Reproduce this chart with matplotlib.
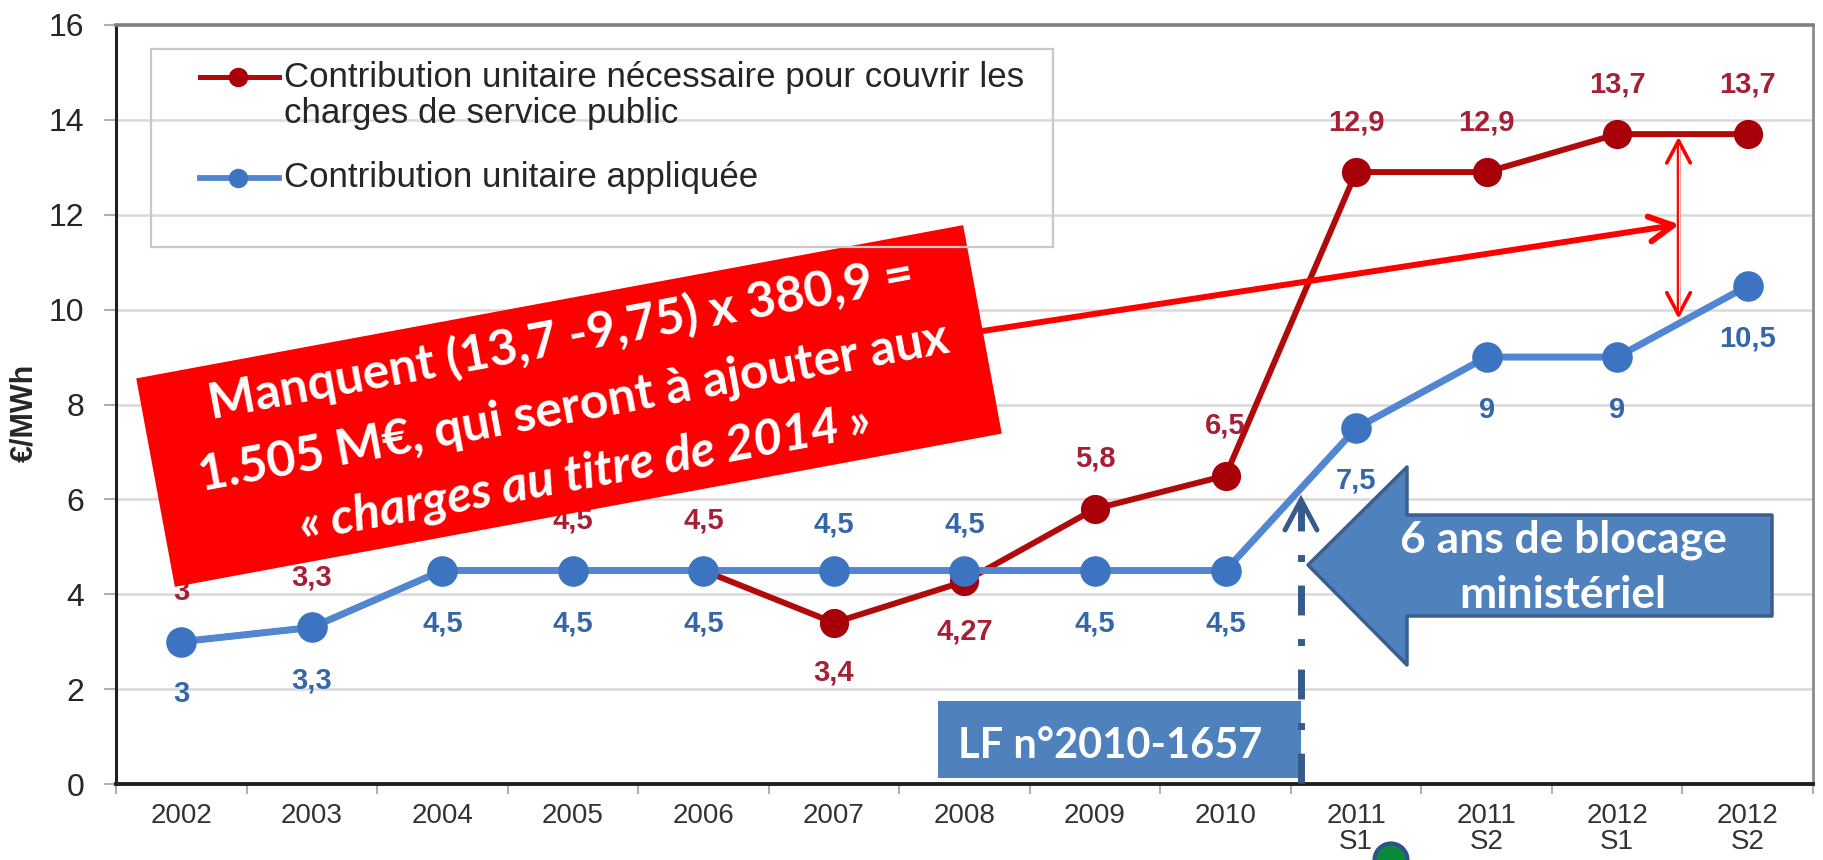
import numpy as np
import matplotlib
matplotlib.use("Agg")
import matplotlib.pyplot as plt
from matplotlib import font_manager
import matplotlib.transforms as mtransforms
from matplotlib.patches import Rectangle, Polygon, Circle, FancyArrowPatch, ArrowStyle
from matplotlib.lines import Line2D

# ---------------- data ----------------
categories = ["2002", "2003", "2004", "2005", "2006", "2007", "2008", "2009", "2010",
              "2011\nS1", "2011\nS2", "2012\nS1", "2012\nS2"]
necessary = [3, 3.3, 4.5, 4.5, 4.5, 3.4, 4.27, 5.8, 6.5, 12.9, 12.9, 13.7, 13.7]
applied = [3, 3.3, 4.5, 4.5, 4.5, 4.5, 4.5, 4.5, 4.5, 7.5, 9, 9, 10.5]
y_ticks = [0, 2, 4, 6, 8, 10, 12, 14, 16]
series_labels = ["Contribution unitaire nécessaire pour couvrir les",
                 "charges de service public",
                 "Contribution unitaire appliquée"]
y_label = "€/MWh"
gap_values = [13.7, 9.75]
box_lines = ["Manquent (13,7 -9,75) x 380,9 =",
             "1.505 M€, qui seront à ajouter aux",
             "« charges au titre de 2014 »"]
arrow_lines = ["6 ans de blocage", "ministériel"]
law_text = "LF n°2010-1657"

# ---------------- style ----------------
W, H, DPI = 1824, 860, 100
RED_LINE, RED_MK, RED_TXT = "#B00A0A", "#A80008", "#A52035"
BLUE_LINE, BLUE_MK, BLUE_TXT = "#5286D0", "#3C74C2", "#3566A8"
BOX_RED = "#FF0000"
ARROW_BLUE, ARROW_EDGE = "#4F81BD", "#3A5F8E"


def has_font(name):
    try:
        font_manager.findfont(font_manager.FontProperties(family=name),
                              fallback_to_default=False)
        return True
    except Exception:
        return False


SANS = "Liberation Sans" if has_font("Liberation Sans") else "DejaVu Sans"
CAL = "Lato" if has_font("Lato") else ("Open Sans" if has_font("Open Sans") else "DejaVu Sans")
plt.rcParams["font.family"] = [SANS, "DejaVu Sans"]


def fmt(v):
    return f"{v:g}".replace(".", ",")


fig = plt.figure(figsize=(W / DPI, H / DPI), dpi=DPI)
fig.patch.set_facecolor("white")
ax = fig.add_axes([116 / W, 1 - 784 / H, (1813 - 116) / W, (784 - 25) / H])
# pixel (top-left origin) transform for annotation shapes
PX = mtransforms.Affine2D().scale(1 / DPI, -1 / DPI).translate(0, H / DPI) + fig.dpi_scale_trans

x = np.arange(len(categories))
ax.set_xlim(-0.5, len(categories) - 0.5)
ax.set_ylim(y_ticks[0], y_ticks[-1])

# grid
for yv in y_ticks[1:-1]:
    ax.axhline(yv, color="#D9D9D9", lw=1.8, zorder=0.5)

ax.plot(x, necessary, color=RED_LINE, lw=4.3, marker="o", ms=20,
        mfc=RED_MK, mec=RED_MK, zorder=3)
ax.plot(x, applied, color=BLUE_LINE, lw=5, marker="o", ms=21,
        mfc=BLUE_MK, mec=BLUE_MK, zorder=4)

for i, (r, b) in enumerate(zip(necessary, applied)):
    r_up = r >= b
    ax.annotate(fmt(r), (i, r), xytext=(0, 36 if r_up else -36), textcoords="offset points",
                ha="center", va="center", color=RED_TXT, fontsize=21, fontweight="bold",
                zorder=5)
    b_up = b > r
    ax.annotate(fmt(b), (i, b), xytext=(0, 33 if b_up else -38), textcoords="offset points",
                ha="center", va="center", color=BLUE_TXT, fontsize=21, fontweight="bold",
                zorder=5)

# axes styling
ax.set_yticks(y_ticks)
ax.set_yticklabels([str(v) for v in y_ticks], fontsize=23, color="#262626")
ax.tick_params(axis="y", length=9, width=1.5, color="#B0B0B0", pad=14)
ax.set_xticks(x)
ax.set_xticklabels(categories, fontsize=20, color="#333333", linespacing=1.0)
ax.tick_params(axis="x", which="major", length=0, pad=14)
ax.set_xticks(np.arange(-0.5, len(categories), 1.0), minor=True)
ax.tick_params(axis="x", which="minor", length=7, width=1.5, color="#B0B0B0")
for s, c, w in [("left", "#202020", 2.2), ("bottom", "#202020", 2.8),
                ("top", "#7F7F7F", 2.6), ("right", "#8C8C8C", 2.0)]:
    ax.spines[s].set_color(c)
    ax.spines[s].set_linewidth(w)

fig.text(24, 413, y_label, transform=PX, rotation=90, ha="center", va="center",
         fontsize=22, fontweight="bold", color="#262626")

# legend (manual)
fig.patches.append(Rectangle((151, 49), 902, 198, transform=PX, fill=False,
                             edgecolor="#C8C8C8", lw=1.6, zorder=10))
for yy, lc, mc, lw in [(77, RED_LINE, RED_MK, 3.6), (178, BLUE_LINE, BLUE_MK, 4.2)]:
    fig.add_artist(Line2D([200, 238, 279], [yy, yy, yy], transform=PX, color=lc, lw=lw,
                          marker="o", markevery=[1], ms=13, mfc=mc, mec=mc, zorder=11))
leg_texts = []
for yy, t in zip([77, 114, 178], series_labels):
    leg_texts.append(fig.text(284, yy, t, transform=PX, ha="left", va="center",
                              fontsize=21, color="#262626", zorder=11))

renderer = fig.canvas.get_renderer()


def fit(t, target):
    bb = t.get_window_extent(renderer)
    return t.get_fontsize() * target / bb.width


fs = fit(leg_texts[0], 739)
for t in leg_texts:
    t.set_fontsize(fs)

# red arrow from the box to the gap
ax.add_patch(FancyArrowPatch((950, 336), (1682, 224), transform=PX,
                             arrowstyle=ArrowStyle("->", head_length=17, head_width=9),
                             mutation_scale=1, color=BOX_RED, lw=4.3,
                             capstyle="round", joinstyle="round", zorder=8, clip_on=False))
# double-headed gap arrow
gx = 11.47
ax.add_patch(FancyArrowPatch((gx, gap_values[0]), (gx, gap_values[1]),
                             arrowstyle=ArrowStyle("<->", head_length=16, head_width=8.5),
                             mutation_scale=1, color=BOX_RED, lw=2.6,
                             capstyle="round", joinstyle="round", zorder=8))
ax.plot([gx, gx], [gap_values[0] - 0.25, gap_values[1] + 0.25], color="white", lw=0.8, zorder=8.5)

# red rotated box
ANG = 10.5
fig.patches.append(Rectangle((569 - 841 / 2, 406 - 212 / 2), 841, 212, angle=-ANG,
                             rotation_point="center", transform=PX, facecolor=BOX_RED,
                             edgecolor="none", zorder=9))

box_pos = [(564, 354), (576, 421), (588, 488)]
box_txt = []
for (px, py), t, st in zip(box_pos, box_lines, ["normal", "normal", "italic"]):
    box_txt.append(fig.text(px, py, t, transform=PX, ha="center", va="baseline",
                            rotation_mode="anchor", fontsize=30, fontweight="bold",
                            fontstyle=st, family=[CAL, "DejaVu Sans"], color="white", zorder=12))
fs = fit(box_txt[1], 762)
for t in box_txt:
    t.set_fontsize(fs)
    t.set_rotation(ANG)

# dashed vertical arrow
dash_col = "#365A8C"
fig.add_artist(Line2D([1301, 1301], [783, 503], transform=PX, color=dash_col, lw=5,
                      linestyle=(0, (4.3, 3.4, 1.0, 3.4)), dash_capstyle="butt", zorder=13))
fig.add_artist(Line2D([1285, 1301, 1317], [530, 500, 530], transform=PX, color=dash_col,
                      lw=3.6, solid_joinstyle="miter", solid_capstyle="round", zorder=13))

# big blue arrow
arrow_pts = [(1308, 565), (1407, 467), (1407, 515), (1772, 515),
             (1772, 616), (1407, 616), (1407, 665)]
fig.patches.append(Polygon(arrow_pts, closed=True, transform=PX, facecolor=ARROW_BLUE,
                           edgecolor=ARROW_EDGE, lw=2.5, joinstyle="round", zorder=12))
arr_txt = []
for yy, t in zip([553, 608], arrow_lines):
    arr_txt.append(fig.text(1563, yy, t, transform=PX, ha="center", va="baseline",
                            fontsize=30, fontweight="bold", family=[CAL, "DejaVu Sans"],
                            color="white", zorder=14))
fs = fit(arr_txt[0], 326)
for t in arr_txt:
    t.set_fontsize(fs)

# LF box
fig.patches.append(Rectangle((938, 701), 363, 77, transform=PX, facecolor=ARROW_BLUE,
                             edgecolor="none", zorder=12))
lf = fig.text(1110, 758, law_text, transform=PX, ha="center", va="baseline", fontsize=30,
              fontweight="bold", family=[CAL, "DejaVu Sans"], color="white", zorder=14)
lf.set_fontsize(fit(lf, 304))

# green dot at bottom
fig.patches.append(Circle((1391, 860), 16.5, transform=PX, facecolor="#0A8A3C",
                          edgecolor="#2F528F", lw=3, zorder=15))

fig.savefig("out.png", dpi=DPI, facecolor="white")
